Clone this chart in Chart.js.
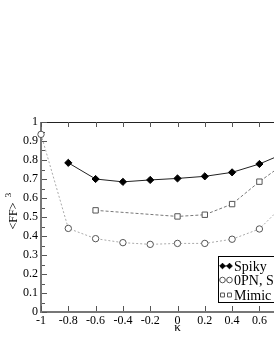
<!DOCTYPE html>
<html>
<head>
<meta charset="utf-8">
<script src="https://cdn.jsdelivr.net/npm/chart.js@4/dist/chart.umd.min.js"></script>
<style>
html,body{margin:0;padding:0;background:#fff;overflow:hidden;width:274px;height:354px;}
#wrap{position:absolute;left:0;top:0;width:330px;height:354px;}
</style>
</head>
<body>
<div id="wrap"><canvas id="c" width="330" height="354"></canvas></div>
<script>
// ---- data ----
const kappa = [-1, -0.8, -0.6, -0.4, -0.2, 0, 0.2, 0.4, 0.6, 0.8];
const spiky = [null, 0.785, 0.700, 0.685, 0.695, 0.703, 0.714, 0.735, 0.779, 0.840];
const opn   = [0.935, 0.440, 0.386, 0.365, 0.356, 0.361, 0.361, 0.383, 0.437, 0.580];
const mimic = [null, null, 0.535, null, null, 0.503, 0.512, 0.568, 0.686, 0.790];
const seriesNames = ['Spiky', '0PN, Spiky', 'Mimic'];
const xTicks = [-1, -0.8, -0.6, -0.4, -0.2, 0, 0.2, 0.4, 0.6, 0.8, 1];
const yTicks = [0, 0.1, 0.2, 0.3, 0.4, 0.5, 0.6, 0.7, 0.8, 0.9, 1];
const xTitle = 'κ';
const yTitle = '<FF>';
const yTitleSup = '3';

const SERIF = "'Liberation Serif', 'DejaVu Serif', serif";

function pts(arr){ return kappa.map((k,i)=>({x:k, y:arr[i]})).filter(p=>p.y!==null); }
function fmt(v){ return String(Number(Number(v).toFixed(2))); }

const styles = [
  {line:'#222', dash:[], width:1, pstyle:'rectRot', fill:'#000', pborder:'#000', r:3.6},
  {line:'#aaa', dash:[2,2], width:1, pstyle:'circle', fill:'#fff', pborder:'#555', r:3.2},
  {line:'#777', dash:[3,2], width:1, pstyle:'rect', fill:'#fff', pborder:'#555', r:3.8}
];

function drawMarker(ctx, st, x, y, r){
  ctx.save();
  ctx.setLineDash([]);
  ctx.lineWidth = 1;
  ctx.fillStyle = st.fill; ctx.strokeStyle = st.pborder;
  ctx.beginPath();
  if (st.pstyle === 'circle') { ctx.arc(x, y, r, 0, Math.PI*2); }
  else if (st.pstyle === 'rect') { const h = r*0.707; ctx.rect(x-h, y-h, 2*h, 2*h); }
  else { ctx.moveTo(x, y-r); ctx.lineTo(x+r, y); ctx.lineTo(x, y+r); ctx.lineTo(x-r, y); ctx.closePath(); }
  ctx.fill(); ctx.stroke();
  ctx.restore();
}

const framePlugin = {
  id: 'frame',
  beforeDatasetsDraw(chart){
    const {ctx, chartArea:a, scales:{x, y}} = chart;
    ctx.save();
    ctx.strokeStyle = '#222'; ctx.lineWidth = 1;
    ctx.beginPath(); ctx.moveTo(a.left, a.top+0.5); ctx.lineTo(a.right, a.top+0.5); ctx.stroke();
    ctx.strokeStyle = '#777'; ctx.lineWidth = 2;
    ctx.beginPath(); ctx.moveTo(a.left, a.top); ctx.lineTo(a.left, a.bottom); ctx.lineTo(a.right, a.bottom); ctx.stroke();
    ctx.lineWidth = 1; ctx.strokeStyle = '#555';
    x.ticks.forEach(t => {
      const px = Math.round(x.getPixelForValue(t.value)) + 0.5;
      ctx.beginPath(); ctx.moveTo(px, a.top); ctx.lineTo(px, a.top+5); ctx.stroke();
      ctx.beginPath(); ctx.moveTo(px, a.bottom-1); ctx.lineTo(px, a.bottom-6); ctx.stroke();
    });
    for (let i=0;i<y.ticks.length;i++){
      const v = y.ticks[i].value;
      const py = Math.round(y.getPixelForValue(v)) + 0.5;
      ctx.beginPath(); ctx.moveTo(a.left+1, py); ctx.lineTo(a.left+6, py); ctx.stroke();
      if (i < y.ticks.length-1){
        const m = (v + y.ticks[i+1].value)/2;
        const pm = Math.round(y.getPixelForValue(m)) + 0.5;
        ctx.beginPath(); ctx.moveTo(a.left+1, pm); ctx.lineTo(a.left+4, pm); ctx.stroke();
      }
    }
    ctx.restore();
  },
  afterDraw(chart){
    const {ctx, chartArea:a, scales:{x, y}} = chart;
    ctx.save();
    ctx.fillStyle = '#000';
    ctx.font = '13px ' + SERIF; ctx.textAlign = 'center'; ctx.textBaseline = 'middle';
    ctx.fillText(xTitle, x.getPixelForValue(0), 328);
    ctx.save(); ctx.translate(14, 216); ctx.rotate(-Math.PI/2);
    ctx.font = '12px ' + SERIF; ctx.fillText(yTitle, 0, 0); ctx.restore();
    ctx.save(); ctx.translate(9, 195); ctx.rotate(-Math.PI/2);
    ctx.font = '9px ' + SERIF; ctx.fillText(yTitleSup, 0, 0); ctx.restore();
    // legend
    const lx = 218, ly = 256, lw = 120, lh = 46;
    ctx.fillStyle = '#fff'; ctx.fillRect(lx, ly, lw, lh);
    ctx.strokeStyle = '#000'; ctx.lineWidth = 1;
    ctx.strokeRect(lx+0.5, ly+0.5, lw, lh);
    const rows = [266, 280, 295];
    chart.data.datasets.forEach((ds, i) => {
      const st = styles[i]; const ry = rows[i];
      ctx.save();
      ctx.strokeStyle = st.line; ctx.lineWidth = st.width; ctx.setLineDash(st.dash);
      ctx.beginPath(); ctx.moveTo(222, ry); ctx.lineTo(229, ry); ctx.stroke();
      ctx.restore();
      drawMarker(ctx, st, 222.5, ry, 2.8);
      drawMarker(ctx, st, 229.5, ry, 2.8);
      ctx.fillStyle = '#000'; ctx.font = '14px ' + SERIF;
      ctx.textAlign = 'left'; ctx.textBaseline = 'middle';
      ctx.fillText(ds.label, 234, ry+1);
    });
    ctx.restore();
  }
};

const datasets = [spiky, opn, mimic].map((arr, i) => {
  const st = styles[i];
  return {
    label: seriesNames[i],
    data: pts(arr),
    borderColor: st.line,
    borderWidth: st.width,
    borderDash: st.dash,
    pointStyle: st.pstyle,
    pointRadius: st.r,
    pointBackgroundColor: st.fill,
    pointBorderColor: st.pborder,
    pointBorderWidth: 1,
    tension: 0,
    spanGaps: true,
    clip: false,
    fill: false
  };
});

new Chart(document.getElementById('c'), {
  type: 'line',
  data: { datasets },
  options: {
    responsive: false,
    animation: false,
    events: [],
    layout: { padding: { top: 122, right: 16, bottom: 0, left: 0 } },
    plugins: { legend: { display: false }, tooltip: { enabled: false } },
    scales: {
      x: {
        type: 'linear', min: xTicks[0], max: xTicks[xTicks.length-1],
        border: { display: false },
        grid: { display: false, drawTicks: false, tickLength: 0 },
        afterBuildTicks(s){ s.ticks = xTicks.map(v=>({value:v})); },
        afterFit(s){ s.height = 42; },
        ticks: { padding: 2, color: '#000', font: { family: SERIF, size: 12 }, callback: v => fmt(v), maxRotation: 0, autoSkip: false }
      },
      y: {
        type: 'linear', min: yTicks[0], max: yTicks[yTicks.length-1],
        border: { display: false },
        grid: { display: false, drawTicks: false, tickLength: 0 },
        afterBuildTicks(s){ s.ticks = yTicks.map(v=>({value:v})); },
        afterFit(s){ s.width = 41; },
        ticks: { padding: 3, color: '#000', font: { family: SERIF, size: 12 }, callback: v => fmt(v), autoSkip: false }
      }
    }
  },
  plugins: [framePlugin]
});
</script>
</body>
</html>
